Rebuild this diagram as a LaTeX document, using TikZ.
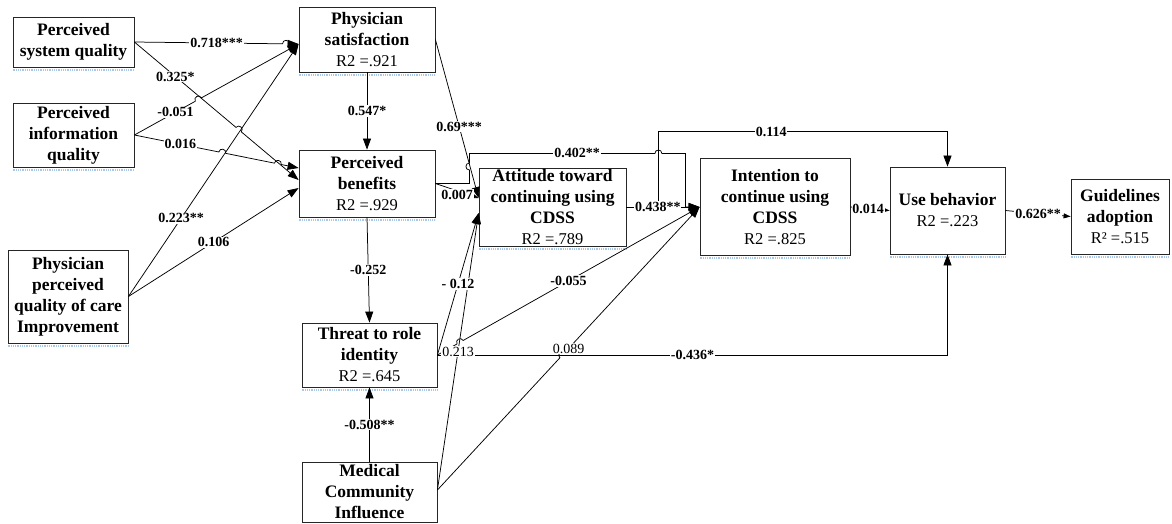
\documentclass[tikz,border=0pt]{standalone}
\usepackage{fontspec}
\setmainfont{Liberation Serif}
\usetikzlibrary{arrows.meta,calc}
\definecolor{uline}{HTML}{A9C7E8}

\begin{document}
\begin{tikzpicture}[x=1pt,y=-1pt,
  box/.style={draw=black!85, line width=0.8pt, align=center, inner sep=0pt,
    font=\fontsize{17.5}{21}\selectfont\bfseries},
  arr/.style={draw, line width=0.75pt, -{Triangle[length=11pt,width=8pt]}},
  sarr/.style={draw, line width=0.75pt, -{Triangle[length=7pt,width=5pt]}},
  lab/.style={fill=white, inner sep=0.8pt, font=\fontsize{14}{15}\selectfont\bfseries},
  labr/.style={fill=white, inner sep=0.8pt, font=\fontsize{14}{15}\selectfont},
  hop/.style={bend left=90, looseness=1.7},
  underline/.style={draw=uline, line width=2pt, dash pattern=on 1pt off 0.8pt}
]
\useasboundingbox (0,0) rectangle (1172,523);

\newcommand{\rsq}[1]{{\mdseries\fontsize{16.5}{21}\selectfont #1}}

% ---- constructs ----
\node[box, minimum width=121pt, minimum height=50pt] (psq) at (73.5,42) {Perceived\\system quality};
\node[box, minimum width=121pt, minimum height=64pt] (piq) at (73.5,135) {Perceived\\information\\quality};
\node[box, minimum width=120pt, minimum height=93pt] (ppq) at (68,296.5) {Physician\\perceived\\quality of care\\Improvement};
\node[box, minimum width=136pt, minimum height=65pt] (ps) at (367,39.5) {Physician\\satisfaction\\\rsq{R2 =.921}};
\node[box, minimum width=136pt, minimum height=67pt] (pb) at (367,183.5) {Perceived\\benefits\\\rsq{R2 =.929}};
\node[box, minimum width=135pt, minimum height=64pt] (tri) at (369.5,355) {Threat to role\\identity\\\rsq{R2 =.645}};
\node[box, minimum width=135pt, minimum height=60pt] (mci) at (369.5,492) {Medical\\Community\\Influence};
\node[box, minimum width=147pt, minimum height=78pt] (att) at (552.5,207) {Attitude toward\\continuing using\\CDSS\\\rsq{R2 =.789}};
\node[box, minimum width=150pt, minimum height=97pt] (int) at (775,207) {Intention to\\continue using\\CDSS\\\rsq{R2 =.825}};
\node[box, minimum width=115pt, minimum height=87pt] (use) at (947.5,210.5) {Use behavior\\\rsq{R2 =.223}};
\node[box, minimum width=98pt, minimum height=75pt] (gui) at (1120,216.5) {Guidelines\\adoption\\\rsq{R² =.515}};

\foreach \n in {psq,piq,ppq,ps,pb,tri,att,int,use,gui}
  \draw[underline] ([yshift=-2.5pt]\n.south west) -- ([yshift=-2.5pt]\n.south east);

% ---- arrow end points on the box sides ----
\coordinate (psIn)   at ($(ps.west)+(0,4.5)$);
\coordinate (pbInA)  at ($(pb.west)+(0,-15.5)$);
\coordinate (pbInB)  at ($(pb.west)+(0,-3.5)$);
\coordinate (pbInC)  at ($(pb.west)+(0,4.5)$);
\coordinate (attInA) at ($(att.west)+(0,-9)$);
\coordinate (attInB) at ($(att.west)+(0,6)$);
\coordinate (mciOut) at ($(mci.east)+(0,-2)$);

% ---- line crossings that get a hop ----
\coordinate (h1) at ($(psq.east)!(286,44)!(psIn)$);
\coordinate (h2) at ($(psq.east)!(240,128)!(pbInB)$);
\coordinate (h3) at ($(piq.east)!(197,97)!(psIn)$);
\coordinate (h4) at ($(piq.east)!(222,154)!(pbInA)$);
\coordinate (h5) at ($(piq.east)!(278,163)!(pbInA)$);
\coordinate (h6) at ($(tri.east)!(460,342)!(int.west)$);
\coordinate (h7) at ($(mciOut)!(562,355)!(int.west)$);

% ---- paths: exogenous constructs ----
\draw[arr] (psq.east) -- ($(h1)!3.5pt!(psq.east)$) to[hop] ($(h1)!3.5pt!(psIn)$) -- (psIn);
\draw[arr] (psq.east) -- ($(h2)!3.5pt!(psq.east)$) to[hop] ($(h2)!3.5pt!(pbInB)$) -- (pbInB);
\draw[arr] (piq.east) -- ($(h3)!3.5pt!(piq.east)$) to[hop] ($(h3)!3.5pt!(psIn)$) -- (psIn);
\draw[arr] (piq.east) -- ($(h4)!3.5pt!(piq.east)$) to[hop] ($(h4)!3.5pt!(pbInA)$)
  -- ($(h5)!3.5pt!(piq.east)$) to[hop] ($(h5)!3.5pt!(pbInA)$) -- (pbInA);
\draw[arr] (ppq.east) -- (psIn);
\draw[arr] (ppq.east) -- (pbInC);

% ---- paths: inner model ----
\draw[arr] (ps.south) -- (pb.north);
\draw[arr] (ps.east) -- (attInA);
\draw[arr] (pb.east) -- (attInA);
\draw[arr] (pb.south) -- (tri.north);
\draw[arr] (mci.north) -- (tri.south);
\draw[arr] (pb.east) -- ++(34,0) -- ++(0,-13.5) to[hop] ++(0,-7) -- ++(0,-9.5)
  -- ++(185.5,0) to[hop] ++(7,0) -- ++(23.5,0) |- (int.west);
\draw[arr] (att.east) -- (int.west);
\draw[arr] (att.east) -- ++(32,0) |- ($(use.north)+(0,-35)$) -- (use.north);
\draw[arr] (tri.east) -- (attInB);
\draw[arr] (mciOut) -- (attInB);
\draw[arr] (tri.east) -- ($(h6)!3.5pt!(tri.east)$) to[hop] ($(h6)!3.5pt!(int.west)$) -- (int.west);
\draw[arr] (mciOut) -- ($(h7)!3.5pt!(mciOut)$) to[hop] ($(h7)!3.5pt!(int.west)$) -- (int.west);
\draw[arr] (tri.east) -| (use.south);
\draw[sarr] (int.east) -- (use.west);
\draw[sarr] (use.east) -- (gui.west);

% ---- path coefficients ----
\path (psq.east) -- (psIn) node[lab,pos=0.5] {0.718***};
\path (psq.east) -- (pbInB) node[lab,pos=0.25] {0.325*};
\path (piq.east) -- (psIn) node[lab,pos=0.25] {-0.051};
\path (piq.east) -- (pbInA) node[lab,pos=0.28] {0.016};
\path (ppq.east) -- (psIn) node[lab,pos=0.31] {0.223**};
\path (ppq.east) -- (pbInC) node[lab,pos=0.5] {0.106};
\path (ps.south) -- (pb.north) node[lab,pos=0.5] {0.547*};
\path (ps.east) -- (attInA) node[lab,pos=0.55] {0.69***};
\path (pb.east) -- (attInA) node[lab,pos=0.5,yshift=-4pt] {0.007};
\path ($(pb.east)+(34,-30)$) -- ($(int.west)+(-15,-54)$) node[lab,pos=0.5] {0.402**};
\path (att.east) -- (int.west) node[lab,pos=0.43] {0.438**};
\path ($(att.east)+(32,-75)$) -- ($(use.north)+(0,-35)$) node[lab,pos=0.39] {0.114};
\path (int.east) -- (use.west) node[lab,pos=0.45] {0.014};
\path (use.east) -- (gui.west) node[lab,pos=0.5] {0.626**};
\path (pb.south) -- (tri.north) node[lab,pos=0.5] {-0.252};
\path (mci.north) -- (tri.south) node[lab,pos=0.5] {-0.508**};
\path (tri.east) -- (attInB) node[lab,pos=0.5] {- 0.12};
\path (tri.east) -- (int.west) node[lab,pos=0.5] {-0.055};
\path (tri.east) -- (tri.east -| use.south) node[lab,pos=0.5] {-0.436*};
\path (mciOut) -- (attInB) node[labr,pos=0.5] {0.213};
\path (mciOut) -- (int.west) node[labr,pos=0.5] {0.089};
\end{tikzpicture}
\end{document}
